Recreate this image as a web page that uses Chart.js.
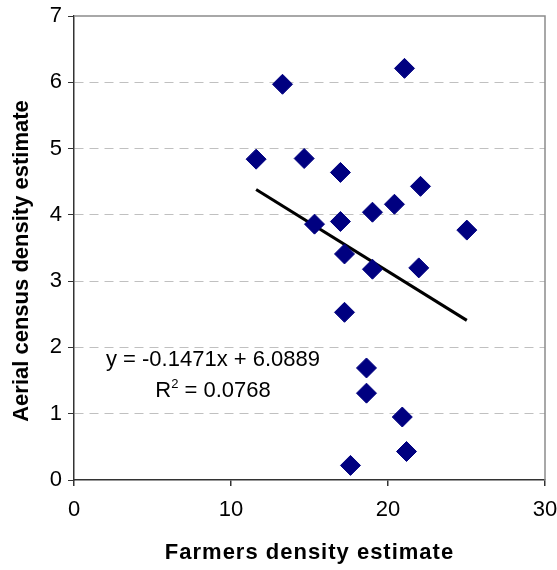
<!DOCTYPE html>
<html>
<head>
<meta charset="utf-8">
<script src="https://cdn.jsdelivr.net/npm/chart.js@4"></script>
<style>
  html, body { margin: 0; padding: 0; background: #fff; overflow: hidden; }
  #wrap { width: 557px; height: 570px; }
  canvas { display: block; }
</style>
</head>
<body>
<div id="wrap"><canvas id="chart" width="557" height="570"></canvas></div>
<script>
// values
const farmers = [11.6, 13.28, 14.66, 16.97, 22.07, 20.41, 19.01, 15.32, 16.97, 25.02,
                 17.23, 19.01, 21.96, 21.05, 17.23, 18.63, 18.63, 20.91, 21.18, 17.61];
const aerial = [4.84, 5.97, 4.85, 4.64, 4.43, 4.16, 4.04, 3.86, 3.90, 3.77,
                3.41, 3.18, 3.20, 6.21, 2.53, 1.69, 1.31, 0.95, 0.43, 0.22];
const slope = -0.1471;
const intercept = 6.0889;
const eqText = 'y = -0.1471x + 6.0889';
const r2Text = '0.0768';
const xTicks = [0, 10, 20, 30];
const yTicks = [0, 1, 2, 3, 4, 5, 6, 7];
const xTitle = 'Farmers density estimate';
const yTitle = 'Aerial census density estimate';

const FONT = 'Arial, "Liberation Sans", sans-serif';

const points = farmers.map((x, i) => ({ x: x, y: aerial[i] }));
const xMin = Math.min(...farmers);
const xMax = Math.max(...farmers);
const trend = [
  { x: xMin, y: slope * xMin + intercept },
  { x: xMax, y: slope * xMax + intercept }
];

// frame, axis titles and the equation label
const extras = {
  id: 'extras',
  afterDraw(chart) {
    const ctx = chart.ctx;
    const a = chart.chartArea;
    ctx.save();
    ctx.strokeStyle = '#8c8c8c';
    ctx.lineWidth = 1.5;
    ctx.beginPath();
    ctx.moveTo(a.left, a.top);
    ctx.lineTo(a.right, a.top);
    ctx.lineTo(a.right, a.bottom);
    ctx.stroke();

    ctx.fillStyle = '#000';
    ctx.textBaseline = 'middle';
    ctx.textAlign = 'center';

    // axis titles
    ctx.font = 'bold 22px ' + FONT;
    ctx.letterSpacing = '1px';
    ctx.fillText(xTitle, (a.left + a.right) / 2, 553);
    ctx.letterSpacing = '0px';
    ctx.save();
    ctx.translate(22, 261);
    ctx.rotate(-Math.PI / 2);
    ctx.fillText(yTitle, 0, 0);
    ctx.restore();

    // trendline label
    ctx.font = '22px ' + FONT;
    const cx = 213;
    ctx.fillText(eqText, cx, 360);

    const rest = ' = ' + r2Text;
    const wR = ctx.measureText('R').width;
    const wRest = ctx.measureText(rest).width;
    ctx.font = '13px ' + FONT;
    const w2 = ctx.measureText('2').width;
    const total = wR + w2 + wRest;
    const x0 = cx - total / 2;
    ctx.textAlign = 'left';
    ctx.font = '22px ' + FONT;
    ctx.fillText('R', x0, 391);
    ctx.font = '13px ' + FONT;
    ctx.fillText('2', x0 + wR, 384);
    ctx.font = '22px ' + FONT;
    ctx.fillText(rest, x0 + wR + w2, 391);
    ctx.restore();
  }
};

new Chart(document.getElementById('chart'), {
  type: 'scatter',
  data: {
    datasets: [
      {
        data: points,
        pointStyle: 'rectRot',
        pointRadius: 10,
        pointBackgroundColor: '#000080',
        pointBorderColor: '#000080',
        pointBorderWidth: 1
      },
      {
        type: 'line',
        data: trend,
        borderColor: '#000',
        borderWidth: 3,
        pointRadius: 0,
        fill: false
      }
    ]
  },
  options: {
    responsive: false,
    animation: false,
    layout: { padding: { top: 16, right: 12, left: 0, bottom: 0 } },
    plugins: { legend: { display: false }, tooltip: { enabled: false } },
    scales: {
      x: {
        type: 'linear',
        min: 0,
        max: 30,
        afterBuildTicks(scale) { scale.ticks = xTicks.map(v => ({ value: v })); },
        afterFit(scale) {
          scale.height = 90;
          scale.paddingLeft = 0;
          scale.paddingRight = 0;
        },
        grid: { drawOnChartArea: false, drawTicks: true, tickLength: 6, tickColor: '#333', lineWidth: 1.5 },
        border: { display: true, color: '#333', width: 1.5 },
        ticks: { color: '#000', font: { family: FONT, size: 22 }, padding: 11, maxRotation: 0 }
      },
      y: {
        type: 'linear',
        min: 0,
        max: 7,
        afterBuildTicks(scale) { scale.ticks = yTicks.map(v => ({ value: v })); },
        afterFit(scale) {
          scale.width = 74;
          scale.paddingTop = 0;
          scale.paddingBottom = 0;
        },
        grid: {
          drawTicks: true,
          tickLength: 6,
          tickColor: '#333',
          color: ctx => (ctx.tick && (ctx.tick.value === 0 || ctx.tick.value === 7)) ? 'rgba(0,0,0,0)' : '#c0c0c0',
          lineWidth: 1
        },
        border: { display: true, color: '#333', width: 1.5, dash: [9, 6] },
        ticks: { color: '#000', font: { family: FONT, size: 22 }, padding: 6 }
      }
    }
  },
  plugins: [extras]
});
</script>
</body>
</html>
